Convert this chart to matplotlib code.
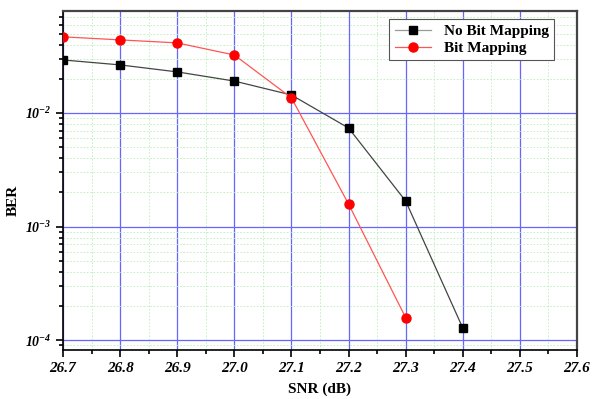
import numpy as np
import matplotlib.pyplot as plt
from matplotlib.ticker import LogLocator, MultipleLocator

snr = [26.7, 26.8, 26.9, 27.0, 27.1, 27.2, 27.3, 27.4]
ber_no_map = [0.0293, 0.0265, 0.0230, 0.0191, 0.0144, 0.00738, 0.00168, 0.000128]
snr_map = [26.7, 26.8, 26.9, 27.0, 27.1, 27.2, 27.3]
ber_map = [0.0468, 0.0440, 0.0414, 0.0324, 0.0136, 0.00158, 0.000158]
xticks = [26.7, 26.8, 26.9, 27.0, 27.1, 27.2, 27.3, 27.4, 27.5, 27.6]

plt.rcParams['font.family'] = ['Liberation Serif', 'DejaVu Serif']
plt.rcParams['mathtext.fontset'] = 'custom'
plt.rcParams['mathtext.it'] = 'Liberation Serif:italic:bold'
plt.rcParams['mathtext.rm'] = 'Liberation Serif:italic:bold'

fig = plt.figure(figsize=(5.97, 3.99), dpi=100)
ax = fig.add_axes([0.1055, 0.1228, 0.861, 0.8496])

ax.plot(snr, ber_no_map, color='#444444', lw=0.9, marker='s', ms=5.5,
        mfc='black', mec='black', label='No Bit Mapping', zorder=3)
ax.plot(snr_map, ber_map, color='#ff5555', lw=0.9, marker='o', ms=6.5,
        mfc='red', mec='red', label='Bit Mapping', zorder=3)

ax.set_yscale('log')
ax.set_xlim(26.7, 27.6)
ax.set_ylim(8.2e-5, 7.9e-2)
ax.xaxis.set_minor_locator(MultipleLocator(0.05))
ax.yaxis.set_minor_locator(LogLocator(base=10, subs=np.arange(2, 10)))
ax.yaxis.set_minor_formatter(plt.NullFormatter())

ax.grid(True, which='major', color='#6666ff', lw=0.9)
ax.grid(True, which='minor', color='#bbeebb', lw=0.6, ls=(0, (2, 2)))
ax.set_axisbelow(True)

ax.tick_params(which='both', direction='out', top=False, right=False, width=1.2)
ax.tick_params(which='major', length=5)
ax.tick_params(which='minor', length=3)
ax.set_xticks(xticks)
ax.set_xticklabels([f'{v:.1f}' for v in xticks], fontsize=11,
                   fontweight='bold', fontstyle='italic')
ax.set_yticks([1e-4, 1e-3, 1e-2])
ax.set_yticklabels([r'$10^{-4}$', r'$10^{-3}$', r'$10^{-2}$'], fontsize=10)

for s in ['top', 'right']:
    ax.spines[s].set_linewidth(1.6)
    ax.spines[s].set_color('#444444')
for s in ['left', 'bottom']:
    ax.spines[s].set_linewidth(1.2)

ax.set_xlabel('SNR (dB)', fontsize=11, fontweight='bold')
ax.set_ylabel('BER', fontsize=11, fontweight='bold')
ax.xaxis.set_label_coords(0.5, -0.097)
ax.yaxis.set_label_coords(-0.084, 0.44)

leg = ax.legend(loc='upper right', bbox_to_anchor=(0.955, 0.976), borderaxespad=0,
                fancybox=False, edgecolor='#555555', framealpha=1,
                prop={'weight': 'bold', 'size': 11},
                handlelength=2.4, borderpad=0.35, labelspacing=0.2)
leg.get_frame().set_linewidth(0.8)
leg.get_lines()[0].set_color('#999999')

fig.savefig('out.png', dpi=100)
